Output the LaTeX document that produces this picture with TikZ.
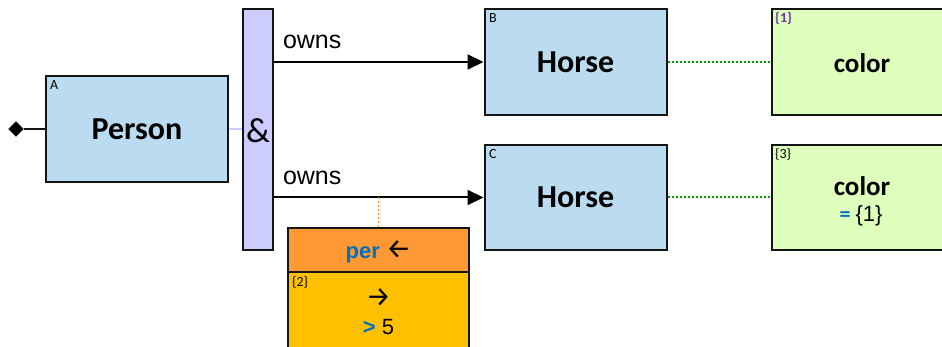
\documentclass[tikz,border=0pt]{standalone}
\usepackage{fontspec}
\setmainfont{Carlito}
\newfontfamily\arialf{Liberation Sans}
\newfontfamily\arrf{Fira Sans}
\usetikzlibrary{shapes.geometric,arrows.meta}
\definecolor{boxblue}{RGB}{187,220,240}
\definecolor{limeF}{RGB}{221,255,187}
\definecolor{lavF}{RGB}{204,204,255}
\definecolor{orangeF}{RGB}{255,153,51}
\definecolor{goldF}{RGB}{255,192,0}
\definecolor{blueT}{RGB}{0,112,192}
\definecolor{purpT}{RGB}{112,48,160}
\definecolor{greenL}{RGB}{0,160,0}
\definecolor{borderC}{RGB}{20,20,20}
\tikzset{
  x=1pt,y=-1pt,
  box/.style={draw=borderC,line width=2pt,inner sep=0pt},
  entity/.style={box,fill=boxblue,minimum width=182pt,minimum height=106pt,font=\fontsize{32}{36}\selectfont\bfseries},
  valbox/.style={box,fill=limeF,minimum width=179pt,minimum height=106pt},
  tag/.style={anchor=north west,inner sep=0pt,font=\fontsize{14}{15}\selectfont},
  rel/.style={line width=2pt,-{Triangle[length=16pt,width=15pt]}},
  relname/.style={font=\arialf\fontsize{25}{28}\selectfont,inner sep=0pt,anchor=south west},
  dots/.style={line width=2pt,dash pattern=on 2pt off 2pt},
}
\begin{document}
\begin{tikzpicture}
\useasboundingbox (0,0) rectangle (942,347);
\clip (0,0) rectangle (942,347);
% nodes
\node[entity] (A) at (137,129) {Person};
\node[box,fill=lavF,minimum width=30pt,minimum height=241pt] (bar) at (258,129.5) {};
\node[font=\fontsize{35}{38}\selectfont] (amp) at (258,131) {\&};
\node[entity] (B) at (575.5,62) {Horse};
\node[entity,minimum height=105pt] (C) at (575.5,197.5) {Horse};
\node[valbox] (V1) at (861.5,62) {};
\node[valbox,minimum height=105pt] (V3) at (861.5,197.5) {};
\node[font=\fontsize{27}{30}\selectfont\bfseries] (V1t) at (862,63) {color};
\node[font=\fontsize{27}{30}\selectfont\bfseries] (V3t) at (862,186) {color};
\node[font=\fontsize{22}{26}\selectfont] (V3v) at (861,216) {\textcolor{blueT}{\bfseries =} {\arialf\{1\}}};
\node[box,fill=orangeF,minimum width=181pt,minimum height=44pt] (P) at (378.5,250) {};
\node[box,fill=goldF,minimum width=181pt,minimum height=85pt] (Q) at (378.5,314.5) {};
\node[font=\arialf\fontsize{22}{26}\selectfont,anchor=base] (Pt) at (378.5,259) {\textcolor{blueT}{\bfseries per} {\arrf\fontsize{28}{30}\selectfont ←}};
\node[font=\arrf\fontsize{28}{30}\selectfont,anchor=base] (Qa) at (378.5,306) {→};
\node[font=\arialf\fontsize{22}{26}\selectfont,anchor=base] (Qv) at (378.5,334) {\textcolor{blueT}{\bfseries >} 5};
% tags
\node[tag] (tA) at (50,80) {A};
\node[tag] (tB) at (489,13) {B};
\node[tag] (tC) at (489,149) {C};
\node[tag,text=purpT,font=\fontsize{14}{15}\selectfont\bfseries] (t1) at (775,12) {\{1\}};
\node[tag] (t3) at (775,148) {\{3\}};
\node[tag] (t2) at (292,276) {\{2\}};
% diamond
\node[diamond,fill=black,draw=black,inner sep=0pt,minimum width=15pt,minimum height=15pt] (D) at (16,129) {};
% connectors
\draw[line width=2pt,borderC] (D) -- (A.west);
\draw[line width=1.5pt,lavF] (A.east) -- (bar.west |- A.east);
\draw[rel] (bar.east |- B.west) -- node[relname,pos=0,xshift=8pt,yshift=12pt]{owns} (B.west);
\draw[rel] (bar.east |- C.west) -- node[relname,pos=0,xshift=8pt,yshift=12pt]{owns} (C.west);
\coordinate (j) at (P.north |- C.west);
\draw[orangeF,dots,line width=1.5pt] (j) -- (P.north);
\draw[greenL,dots] (B.east) -- (V1.west);
\draw[greenL,dots] (C.east) -- (V3.west);
\end{tikzpicture}
\end{document}
